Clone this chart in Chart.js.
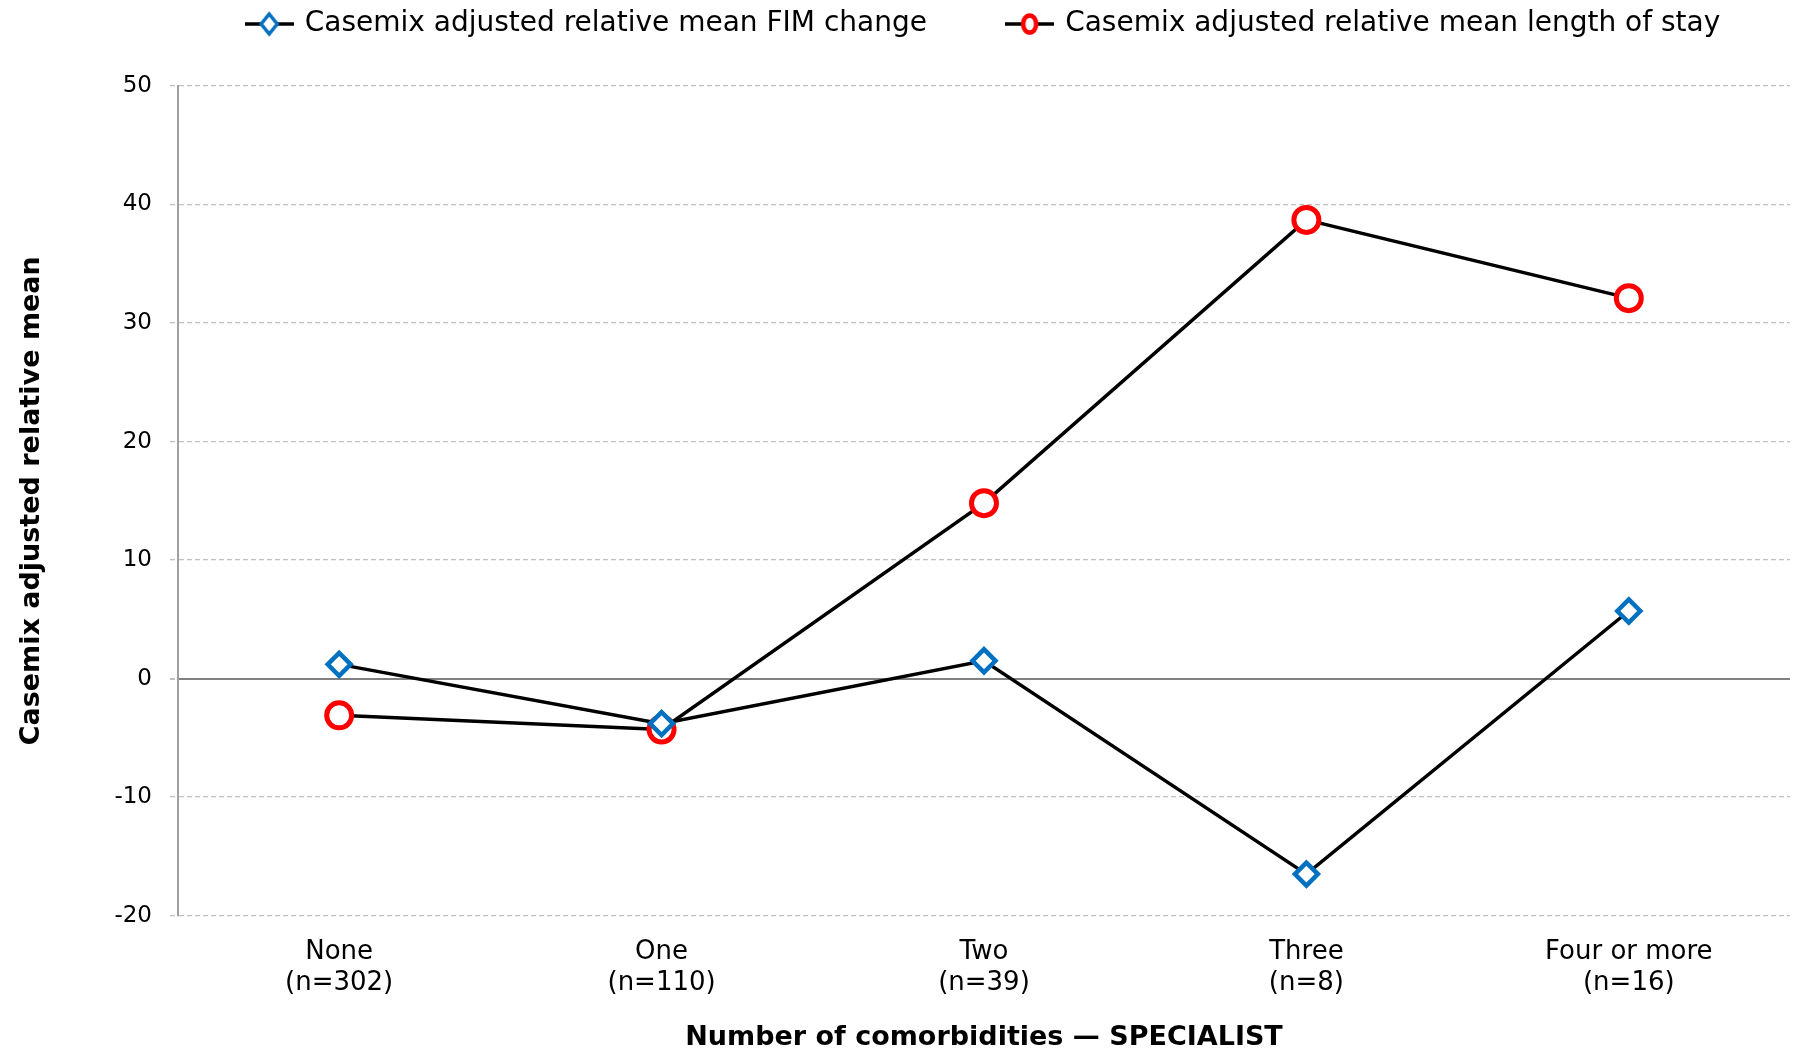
<!DOCTYPE html>
<html>
<head>
<meta charset="utf-8">
<script src="https://cdn.jsdelivr.net/npm/chart.js@4/dist/chart.umd.min.js"></script>
<style>
  html, body { margin: 0; padding: 0; background: #ffffff; overflow: hidden; }
  #wrap { width: 1798px; height: 1051px; }
</style>
</head>
<body>
<div id="wrap"><canvas id="chart"></canvas></div>
<script>
// categories and values
const categories = [
    ['None', '(n=302)'],
    ['One', '(n=110)'],
    ['Two', '(n=39)'],
    ['Three', '(n=8)'],
    ['Four or more', '(n=16)']
];
const fimChange = [1.2, -3.8, 1.5, -16.5, 5.7];
const lengthOfStay = [-3.1, -4.3, 14.8, 38.7, 32.1];
const yTicks = [-20, -10, 0, 10, 20, 30, 40, 50];

const seriesNames = [
    'Casemix adjusted relative mean FIM change',
    'Casemix adjusted relative mean length of stay'
];

const BLUE = '#0070C0';
const RED = '#FF0000';
const FONT = "'DejaVu Sans', Verdana, sans-serif";

// small line + marker image for the legend, Excel style
function legendIcon(kind) {
    const c = document.createElement('canvas');
    c.width = 49;
    c.height = 28;
    const g = c.getContext('2d');
    g.strokeStyle = '#000000';
    g.lineWidth = 3.5;
    g.beginPath();
    g.moveTo(0, 14);
    g.lineTo(49, 14);
    g.stroke();
    g.fillStyle = '#ffffff';
    g.beginPath();
    if (kind === 'diamond') {
        g.lineWidth = 3.5;
        g.strokeStyle = BLUE;
        g.moveTo(24.5, 4); g.lineTo(32.5, 14); g.lineTo(24.5, 24); g.lineTo(16.5, 14);
        g.closePath();
    } else {
        g.lineWidth = 4.5;
        g.strokeStyle = RED;
        g.ellipse(24.5, 14, 6.5, 8.5, 0, 0, Math.PI * 2);
    }
    g.fill();
    g.stroke();
    return c;
}
const icons = [legendIcon('diamond'), legendIcon('circle')];

// leave a gap under the legend, like the reference
const legendGap = {
    id: 'legendGap',
    beforeInit: function(chart) {
        const legend = chart.legend;
        if (!legend) return;
        const origFit = legend.fit;
        legend.fit = function() {
            origFit.call(this);
            this.height += 38;
        };
    }
};

new Chart(document.getElementById('chart'), {
    type: 'line',
    data: {
        labels: categories,
        datasets: [{
            label: seriesNames[0],
            data: fimChange,
            borderColor: '#000000',
            borderWidth: 3.5,
            pointStyle: 'rectRot',
            pointRadius: 11.5,
            pointBorderWidth: 4.5,
            pointBorderColor: BLUE,
            pointBackgroundColor: '#ffffff',
            tension: 0
        }, {
            label: seriesNames[1],
            data: lengthOfStay,
            borderColor: '#000000',
            borderWidth: 3.5,
            pointStyle: 'circle',
            pointRadius: 12.5,
            pointBorderWidth: 5,
            pointBorderColor: RED,
            pointBackgroundColor: '#ffffff',
            tension: 0
        }]
    },
    plugins: [legendGap],
    options: {
        responsive: true,
        maintainAspectRatio: false,
        animation: false,
        layout: {
            autoPadding: false,
            padding: { left: 16, right: 8, top: 0, bottom: 0 }
        },
        plugins: {
            tooltip: { enabled: false },
            legend: {
                position: 'top',
                fullSize: false,
                labels: {
                    usePointStyle: true,
                    pointStyleWidth: 43,
                    color: '#000000',
                    padding: 10,
                    font: { family: FONT, size: 28 },
                    generateLabels: function(chart) {
                        return chart.data.datasets.map(function(ds, i) {
                            return {
                                text: i === 0 ? ds.label + '        ' : ds.label,
                                pointStyle: icons[i],
                                fillStyle: '#ffffff',
                                strokeStyle: '#000000',
                                lineWidth: 0,
                                hidden: false,
                                datasetIndex: i
                            };
                        });
                    }
                }
            }
        },
        scales: {
            x: {
                offset: true,
                grid: { display: false, drawTicks: false },
                border: { display: false },
                ticks: {
                    color: '#000000',
                    padding: 21,
                    font: { family: FONT, size: 26 },
                    maxRotation: 0
                },
                title: {
                    display: true,
                    text: 'Number of comorbidities \u2014 SPECIALIST',
                    color: '#000000',
                    font: { family: FONT, size: 27, weight: 'bold', lineHeight: 1.0 },
                    padding: { top: 4, bottom: 0 }
                }
            },
            y: {
                min: yTicks[0],
                max: yTicks[yTicks.length - 1],
                afterBuildTicks: function(axis) {
                    axis.ticks = yTicks.map(function(v) { return { value: v }; });
                },
                grid: {
                    color: function(ctx) {
                        return ctx.tick && ctx.tick.value === 0 ? '#808080' : '#c0c0c0';
                    },
                    lineWidth: function(ctx) {
                        return ctx.tick && ctx.tick.value === 0 ? 2 : 1.3;
                    },
                    tickLength: 8,
                    tickColor: '#c0c0c0',
                    tickBorderDash: [5, 3]
                },
                border: {
                    display: true,
                    color: '#a0a0a0',
                    width: 2,
                    dash: function(ctx) {
                        return ctx.tick && ctx.tick.value !== 0 ? [5, 3] : [];
                    }
                },
                ticks: {
                    color: '#000000',
                    padding: 18,
                    font: { family: FONT, size: 23 }
                },
                title: {
                    display: true,
                    text: 'Casemix adjusted relative mean',
                    color: '#000000',
                    font: { family: FONT, size: 27, weight: 'bold' },
                    padding: { top: 0, bottom: 48 }
                }
            }
        }
    }
});
</script>
</body>
</html>
